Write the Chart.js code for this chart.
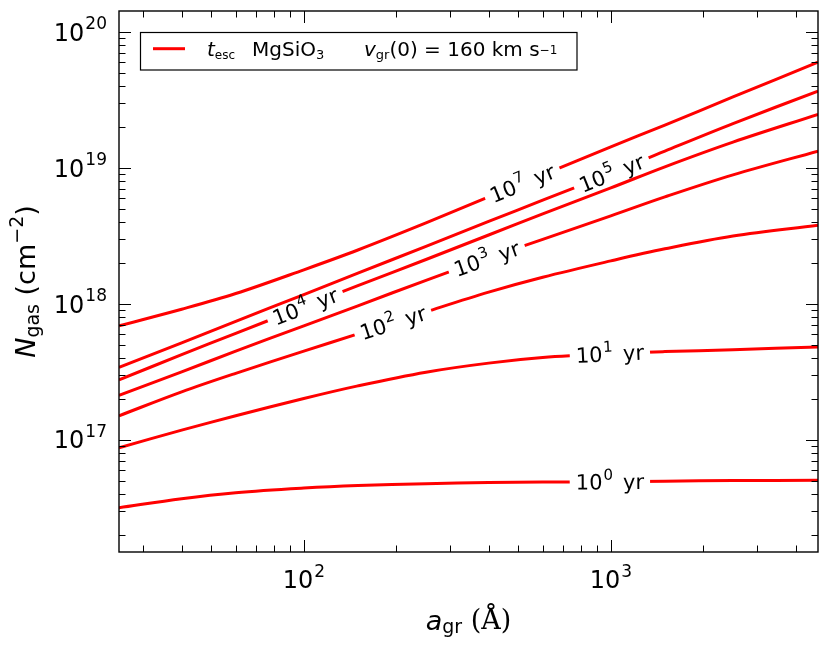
<!DOCTYPE html>
<html>
<head>
<meta charset="utf-8">
<script src="https://cdn.jsdelivr.net/npm/chart.js@4.4.1/dist/chart.umd.min.js"></script>
<style>
  html, body { margin: 0; padding: 0; background: #fff; }
  #wrap { width: 830px; height: 650px; }
</style>
</head>
<body>
<div id="wrap"><canvas id="chart"></canvas></div>
<script>
// grain radius a_gr (Angstrom), sampled along the curves
const aGr = [25, 40, 60, 100, 150, 250, 400, 600, 1000, 1500, 2500, 4730];

// N_gas (cm^-2) for each escape time contour
const nGas7 = [6.89e17, 9.12e17, 1.19e18, 1.78e18, 2.49e18, 3.94e18, 6.12e18, 8.89e18, 1.43e19, 2.07e19, 3.33e19, 6.01e19];
const nGas5 = [3.40e17, 5.16e17, 7.43e17, 1.17e18, 1.68e18, 2.65e18, 4.04e18, 5.79e18, 9.12e18, 1.33e19, 2.12e19, 3.68e19];
const nGas4 = [2.76e17, 4.22e17, 6.07e17, 9.51e17, 1.36e18, 2.12e18, 3.21e18, 4.59e18, 7.13e18, 1.02e19, 1.55e19, 2.48e19];
const nGas3 = [2.12e17, 3.16e17, 4.48e17, 6.89e17, 9.66e17, 1.49e18, 2.18e18, 2.98e18, 4.44e18, 6.12e18, 8.89e18, 1.33e19];
const nGas2 = [1.50e17, 2.25e17, 3.08e17, 4.48e17, 6.01e17, 8.73e17, 1.22e18, 1.57e18, 2.07e18, 2.54e18, 3.16e18, 3.79e18];
const nGas1 = [8.73e16, 1.175e17, 1.50e17, 2.01e17, 2.49e17, 3.14e17, 3.66e17, 4.02e17, 4.30e17, 4.45e17, 4.59e17, 4.82e17];
const nGas0 = [3.15e16, 3.68e16, 4.07e16, 4.40e16, 4.59e16, 4.74e16, 4.83e16, 4.87e16, 4.91e16, 4.95e16, 5.00e16, 5.02e16];

// contour level exponents (t_esc = 10^n yr) and where the inline label sits (a_gr)
const levelExp = ['7', '5', '4', '3', '2', '1', '0'];
const levelValues = [nGas7, nGas5, nGas4, nGas3, nGas2, nGas1, nGas0];
const labelAgr = [515, 1005, 101, 394, 195, 993, 993];

// axes
const xRange = [25, 4730];
const yRange = [1.49e16, 1.43e20];
const xTicks = [100, 1000];
const yTicks = [1e17, 1e18, 1e19, 1e20];

const SANS = '"DejaVu Sans"';
const SERIF = '"DejaVu Serif"';

function minorTicks(min, max) {
  const out = [];
  for (let d = Math.floor(Math.log10(min)); d <= Math.ceil(Math.log10(max)); d++) {
    for (let k = 2; k <= 9; k++) {
      const v = k * Math.pow(10, d);
      if (v > min && v < max) out.push(v);
    }
  }
  return out;
}

// "10" with a raised exponent
function drawPow(ctx, exp, x, base, align, size, supSize, raise) {
  ctx.font = size + 'px ' + SANS;
  const w1 = ctx.measureText('10').width;
  ctx.font = supSize + 'px ' + SANS;
  const w2 = ctx.measureText(exp).width;
  const total = w1 + 1 + w2;
  let x0 = x;
  if (align === 'right') x0 = x - total;
  if (align === 'center') x0 = x - total / 2;
  ctx.textAlign = 'left';
  ctx.textBaseline = 'alphabetic';
  ctx.font = size + 'px ' + SANS;
  ctx.fillText('10', x0, base);
  ctx.font = supSize + 'px ' + SANS;
  ctx.fillText(exp, x0 + w1 + 1, base - raise);
}

// draw a run of pieces: [text, font, dy, gap]
function drawRun(ctx, pieces, x, base) {
  ctx.textAlign = 'left';
  ctx.textBaseline = 'alphabetic';
  pieces.forEach(([txt, font, dy, gap]) => {
    ctx.font = font;
    ctx.fillText(txt, x, base + (dy || 0));
    x += ctx.measureText(txt).width + (gap || 0);
  });
  return x;
}

function runWidth(ctx, pieces) {
  let w = 0;
  pieces.forEach(([txt, font, dy, gap]) => {
    ctx.font = font;
    w += ctx.measureText(txt).width + (gap || 0);
  });
  return w;
}

// y pixel on a drawn line at a given x pixel
function lineYAt(points, px) {
  for (let i = 0; i < points.length - 1; i++) {
    const p = points[i], q = points[i + 1];
    if (px >= p.x && px <= q.x) {
      return p.y + (q.y - p.y) * (px - p.x) / (q.x - p.x);
    }
  }
  return points[points.length - 1].y;
}

const contourLabels = {
  id: 'contourLabels',
  afterDatasetsDraw(chart) {
    const ctx = chart.ctx;
    const xs = chart.scales.x;
    levelExp.forEach((exp, i) => {
      const pts = chart.getDatasetMeta(i).data;
      const cx = xs.getPixelForValue(labelAgr[i]);
      const cy = lineYAt(pts, cx);
      const ang = Math.atan2(lineYAt(pts, cx + 12) - lineYAt(pts, cx - 12), 24);
      const pieces = [
        ['10', '21px ' + SANS, 0, 1],
        [exp, '15px ' + SANS, -9.5, 10],
        ['yr', '21px ' + SANS, 0, 0]
      ];
      ctx.save();
      ctx.translate(cx, cy);
      ctx.rotate(ang);
      const w = runWidth(ctx, pieces);
      ctx.fillStyle = '#fff';
      ctx.fillRect(-w / 2 - 6, -5, w + 12, 10);
      ctx.fillStyle = '#000';
      drawRun(ctx, pieces, -w / 2, 7.6);
      ctx.restore();
    });
  }
};

const frameAndText = {
  id: 'frameAndText',
  afterDraw(chart) {
    const ctx = chart.ctx;
    const a = chart.chartArea;
    const xs = chart.scales.x, ys = chart.scales.y;
    ctx.save();

    // tick marks, pointing inwards on all four sides
    ctx.strokeStyle = '#000';
    ctx.lineWidth = 1;
    ctx.beginPath();
    const xt = xTicks.map(v => [v, 12]).concat(minorTicks(xRange[0], xRange[1]).map(v => [v, 6.5]));
    xt.forEach(([v, len]) => {
      const px = Math.round(xs.getPixelForValue(v)) + 0.5;
      ctx.moveTo(px, a.bottom); ctx.lineTo(px, a.bottom - len);
      ctx.moveTo(px, a.top); ctx.lineTo(px, a.top + len);
    });
    const yt = yTicks.map(v => [v, 12]).concat(minorTicks(yRange[0], yRange[1]).map(v => [v, 6.5]));
    yt.forEach(([v, len]) => {
      const py = Math.round(ys.getPixelForValue(v)) + 0.5;
      if (py < a.top || py > a.bottom) return;
      ctx.moveTo(a.left, py); ctx.lineTo(a.left + len, py);
      ctx.moveTo(a.right, py); ctx.lineTo(a.right - len, py);
    });
    ctx.stroke();

    // frame
    ctx.lineWidth = 1.4;
    ctx.strokeRect(a.left, a.top, a.right - a.left, a.bottom - a.top);

    // tick labels
    ctx.fillStyle = '#000';
    yTicks.forEach(v => {
      const py = ys.getPixelForValue(v);
      drawPow(ctx, String(Math.round(Math.log10(v))), a.left - 12, py + 8.7, 'right', 24, 17, 11.7);
    });
    xTicks.forEach(v => {
      const px = xs.getPixelForValue(v);
      drawPow(ctx, String(Math.round(Math.log10(v))), px, a.bottom + 36, 'center', 24, 17, 11);
    });

    // x axis title: a_gr (Å)
    const xTitle = [
      ['a', 'italic 27px ' + SANS, 0, 0],
      ['gr', '19px ' + SANS, 3, 0],
      [' ', '27px ' + SANS, 0, 0],
      ['(Å)', '27px ' + SERIF, -1, 0]
    ];
    const xw = runWidth(ctx, xTitle);
    drawRun(ctx, xTitle, (a.left + a.right) / 2 - xw / 2, 630);

    // y axis title: N_gas (cm^-2)
    const yTitle = [
      ['N', 'italic 27px ' + SANS, 0, 0],
      ['gas', '19px ' + SANS, 4, 0],
      [' (cm', '27px ' + SANS, 0, 0],
      ['\u22122', '19px ' + SANS, -12, 0],
      [')', '27px ' + SANS, 0, 0]
    ];
    ctx.save();
    ctx.translate(35, (a.top + a.bottom) / 2);
    ctx.rotate(-Math.PI / 2);
    const yw = runWidth(ctx, yTitle);
    drawRun(ctx, yTitle, -yw / 2, 0);
    ctx.restore();

    // legend box
    ctx.fillStyle = '#fff';
    ctx.fillRect(140, 32, 437, 38);
    ctx.strokeStyle = '#000';
    ctx.lineWidth = 1.2;
    ctx.strokeRect(140.5, 32.5, 436.5, 37.5);
    ctx.strokeStyle = '#ff0000';
    ctx.lineWidth = 3;
    ctx.beginPath();
    ctx.moveTo(153, 48.7); ctx.lineTo(185, 48.7);
    ctx.stroke();
    ctx.fillStyle = '#000';
    drawRun(ctx, [
      ['t', 'italic 20px ' + SANS, 0, 0],
      ['esc', '12px ' + SANS, 3.5, 0]
    ], 207, 55.7);
    drawRun(ctx, [
      ['MgSiO', '20px ' + SANS, 0, 0],
      ['3', '13px ' + SANS, 3.5, 0]
    ], 252, 55.7);
    drawRun(ctx, [
      ['v', 'italic 20px ' + SANS, 0, 0],
      ['gr', '13px ' + SANS, 3.5, 0],
      ['(0) = 160 km s', '20px ' + SANS, 0, 0],
      ['\u22121', '12px ' + SANS, -2, 0]
    ], 364, 55.7);

    ctx.restore();
  }
};

const datasets = levelValues.map((vals, i) => ({
  label: 't_esc = 10^' + levelExp[i] + ' yr',
  data: aGr.map((a, j) => ({ x: a, y: vals[j] })),
  borderColor: '#ff0000',
  borderWidth: 3,
  pointRadius: 0,
  fill: false,
  tension: 0.35
}));

const ctx = document.getElementById('chart').getContext('2d');
const chart = new Chart(ctx, {
  type: 'line',
  data: { datasets: datasets },
  options: {
    responsive: true,
    maintainAspectRatio: false,
    animation: false,
    events: [],
    layout: { padding: { left: 119, right: 12, top: 11, bottom: 98 } },
    scales: {
      x: { type: 'logarithmic', min: xRange[0], max: xRange[1], display: false },
      y: { type: 'logarithmic', min: yRange[0], max: yRange[1], display: false }
    },
    plugins: {
      legend: { display: false },
      tooltip: { enabled: false }
    }
  },
  plugins: [contourLabels, frameAndText]
});
</script>
</body>
</html>
